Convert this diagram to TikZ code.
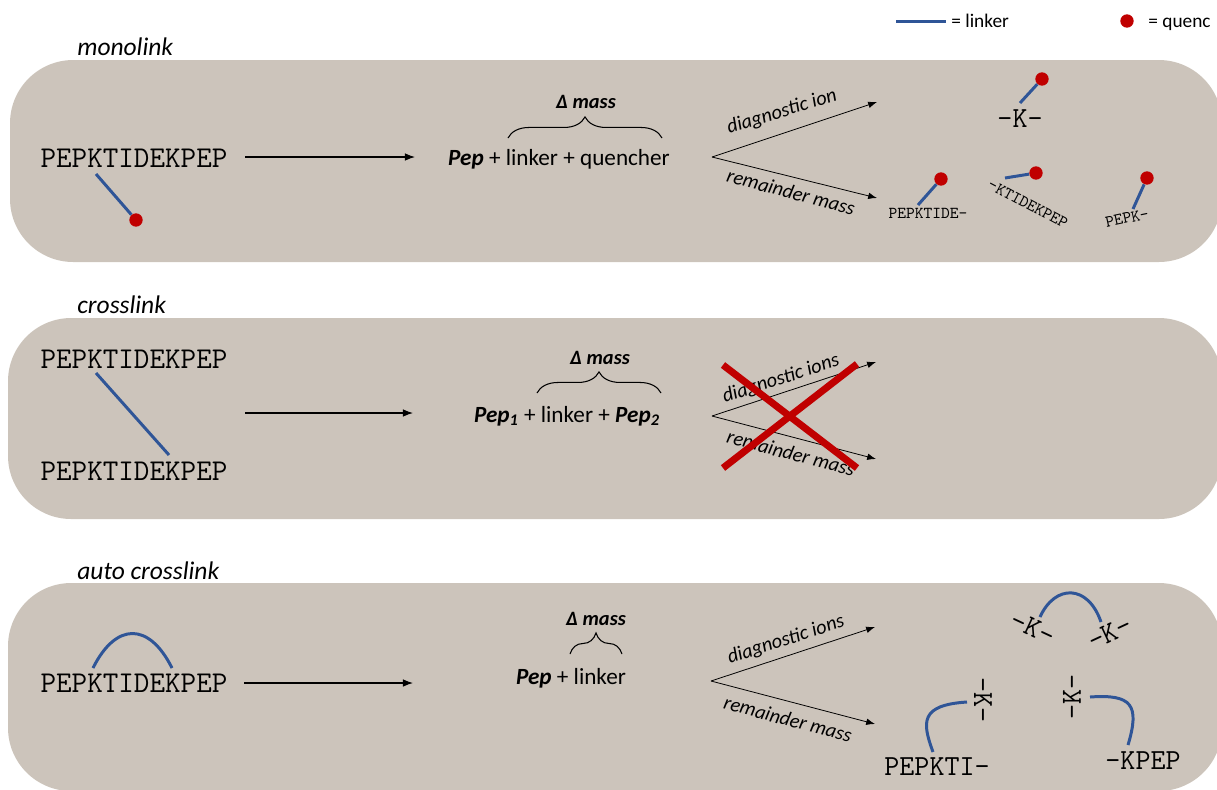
\documentclass[tikz,border=0pt]{standalone}
\usepackage{fontspec}
\setmainfont{Carlito}
\usepackage{tikz}
\usetikzlibrary{arrows.meta,decorations.pathreplacing}
\definecolor{panelgray}{RGB}{204,196,187}
\definecolor{linkblue}{RGB}{47,85,151}
\definecolor{quenchred}{RGB}{192,0,0}
\tikzstyle{panel}=[fill=panelgray, draw=none, rounded corners=36pt]
\tikzstyle{peptide}=[font=\ttfamily\fontsize{17.2}{18}\selectfont, inner sep=0pt]
\tikzstyle{bigfrag}=[font=\ttfamily\fontsize{16.6}{18}\selectfont, inner sep=0pt]
\tikzstyle{fragment}=[font=\ttfamily\fontsize{9.5}{10}\selectfont, inner sep=0pt]
\tikzstyle{boxtitle}=[font=\fontsize{14.5}{16}\selectfont\itshape, inner sep=0pt, anchor=base west]
\tikzstyle{formula}=[font=\fontsize{13.2}{15}\selectfont, inner sep=0pt]
\tikzstyle{deltamass}=[font=\fontsize{11.6}{13}\selectfont\bfseries\itshape, inner sep=0pt]
\tikzstyle{forklabel}=[font=\fontsize{11.5}{13}\selectfont\itshape, inner sep=0pt]
\tikzstyle{legendtext}=[font=\fontsize{11}{13}\selectfont, inner sep=0pt, anchor=base west]
\tikzstyle{linker}=[draw=linkblue, line width=1.7pt]
\tikzstyle{quencher}=[circle, fill=quenchred, inner sep=0pt, minimum size=7.6pt]
\tikzstyle{flow}=[draw, line width=0.6pt, -{>[scale=1.0]}, >=Latex]
\tikzstyle{fork}=[draw, line width=0.45pt, -{>[scale=1.0]}, >=Latex]
\tikzstyle{massbrace}=[draw, line width=0.6pt, decorate, decoration={brace, amplitude=12pt}]
\tikzstyle{cross}=[draw=quenchred, line width=4pt]

\begin{document}
\begin{tikzpicture}[x=0.02cm, y=-0.02cm]
      %
      \useasboundingbox (0,0) rectangle (1217,789);
      \clip (0,0) rectangle (1217,789);
      %
      % Legend
      %
      \coordinate (legA) at (896,21);
      \coordinate (legB) at (946,21);
      \path[linker] (legA) -- (legB);
      \node[legendtext] (legLinker) at (951,27) {= linker};
      \node[quencher] (legDot) at (1127,21) {};
      \node[legendtext] (legQuench) at (1148,27) {= quenc};
      %
      % Panels
      %
      \path[panel] (10,60) rectangle (1222,262);
      \path[panel] (8,318) rectangle (1222,519);
      \path[panel] (8,583) rectangle (1222,791);
      \node[boxtitle] (titleMono) at (77,55) {monolink};
      \node[boxtitle] (titleCross) at (77,313) {crosslink};
      \node[boxtitle] (titleAuto) at (77,579) {auto crosslink};
      %
      % monolink: PEPKTIDEKPEP --> Pep + linker + quencher
      %
      \node[peptide] (seqMono) at (134,158) {PEPKTIDEKPEP};
      \coordinate (monoLink) at (96,174);
      \node[quencher] (monoDot) at (136,220) {};
      \path[linker] (monoLink) -- (monoDot);
      \coordinate (monoOut) at (245,157);
      \coordinate (monoIn) at (415,157);
      \path[flow] (monoOut) -- (monoIn);
      \node[formula] (massMono) at (559,159) {\textbf{\textit{Pep}} + linker + quencher};
      \coordinate (braceMonoL) at (508,138);
      \coordinate (braceMonoR) at (662,138);
      \path[massbrace] (braceMonoL) -- (braceMonoR);
      \node[deltamass] (deltaMono) at (586,102) {Δ mass};
      %
      % monolink: diagnostic ion / remainder mass
      %
      \coordinate (forkMono) at (712,157);
      \coordinate (diagMono) at (877,102);
      \coordinate (restMono) at (877,198);
      \path[fork] (forkMono) -- (diagMono);
      \path[fork] (forkMono) -- (restMono);
      \node[forklabel, rotate=17] (diagTextMono) at (782,112) {diagnostic ion};
      \node[forklabel, rotate=-15] (restTextMono) at (791,192) {remainder mass};
      %
      \node[bigfrag] (ionK) at (1020,119) {-K-};
      \coordinate (ionKLink) at (1020,103);
      \node[quencher] (ionKDot) at (1042,79) {};
      \path[linker] (ionKLink) -- (ionKDot);
      %
      \node[fragment] (fragA) at (928,213) {PEPKTIDE-};
      \coordinate (fragALink) at (918,205);
      \node[quencher] (fragADot) at (941,179) {};
      \path[linker] (fragALink) -- (fragADot);
      %
      \node[fragment, rotate=-28] (fragB) at (1028,204) {-KTIDEKPEP};
      \coordinate (fragBLink) at (1005,178);
      \node[quencher] (fragBDot) at (1036,173) {};
      \path[linker] (fragBLink) -- (fragBDot);
      %
      \node[fragment, rotate=12] (fragC) at (1127,218) {PEPK-};
      \coordinate (fragCLink) at (1133,209);
      \node[quencher] (fragCDot) at (1147,178) {};
      \path[linker] (fragCLink) -- (fragCDot);
      %
      % crosslink: PEPKTIDEKPEP x2 --> Pep1 + linker + Pep2
      %
      \node[peptide] (seqCrossA) at (134,359) {PEPKTIDEKPEP};
      \node[peptide] (seqCrossB) at (134,471) {PEPKTIDEKPEP};
      \coordinate (crossLinkA) at (96,373);
      \coordinate (crossLinkB) at (169,455);
      \path[linker] (crossLinkA) -- (crossLinkB);
      \coordinate (crossOut) at (245,413);
      \coordinate (crossIn) at (413,413);
      \path[flow] (crossOut) -- (crossIn);
      \node[formula] (massCross) at (567,416) {\textbf{\textit{Pep\textsubscript{1}}} + linker + \textbf{\textit{Pep\textsubscript{2}}}};
      \coordinate (braceCrossL) at (537,393);
      \coordinate (braceCrossR) at (661,393);
      \path[massbrace] (braceCrossL) -- (braceCrossR);
      \node[deltamass] (deltaCross) at (600,358) {Δ mass};
      %
      % crosslink: diagnostic ions / remainder mass (crossed out)
      %
      \coordinate (forkCross) at (712,416);
      \coordinate (diagCross) at (876,362);
      \coordinate (restCross) at (876,459);
      \path[fork] (forkCross) -- (diagCross);
      \path[fork] (forkCross) -- (restCross);
      \node[forklabel, rotate=18] (diagTextCross) at (781,379) {diagnostic ions};
      \node[forklabel, rotate=-15] (restTextCross) at (791,453) {remainder mass};
      \coordinate (crossA) at (723,365);
      \coordinate (crossB) at (857,468);
      \coordinate (crossC) at (857,364);
      \coordinate (crossD) at (723,468);
      \path[cross] (crossA) -- (crossB);
      \path[cross] (crossC) -- (crossD);
      %
      % auto crosslink: PEPKTIDEKPEP --> Pep + linker
      %
      \node[peptide] (seqAuto) at (134,683) {PEPKTIDEKPEP};
      \coordinate (autoLinkA) at (93,668);
      \coordinate (autoLinkB) at (172,668);
      \path[linker] (autoLinkA) .. controls (116,622) and (149,622) .. (autoLinkB);
      \coordinate (autoOut) at (244,683);
      \coordinate (autoIn) at (413,683);
      \path[flow] (autoOut) -- (autoIn);
      \node[formula] (massAuto) at (571,678) {\textbf{\textit{Pep}} + linker};
      \coordinate (braceAutoL) at (570,654);
      \coordinate (braceAutoR) at (622,654);
      \path[massbrace] (braceAutoL) -- (braceAutoR);
      \node[deltamass] (deltaAuto) at (596,619) {Δ mass};
      %
      % auto crosslink: diagnostic ions / remainder mass
      %
      \coordinate (forkAuto) at (711,681);
      \coordinate (diagAuto) at (875,627);
      \coordinate (restAuto) at (875,724);
      \path[fork] (forkAuto) -- (diagAuto);
      \path[fork] (forkAuto) -- (restAuto);
      \node[forklabel, rotate=18] (diagTextAuto) at (786,640) {diagnostic ions};
      \node[forklabel, rotate=-15] (restTextAuto) at (788,719) {remainder mass};
      %
      \node[bigfrag, rotate=-25] (ionKA) at (1033,628) {-K-};
      \node[bigfrag, rotate=25] (ionKB) at (1110,633) {-K-};
      \coordinate (ionLinkA) at (1040,617);
      \coordinate (ionLinkB) at (1101,622);
      \path[linker] (ionLinkA) .. controls (1055,584) and (1088,584) .. (ionLinkB);
      %
      \node[bigfrag] (restA) at (937,767) {PEPKTI-};
      \node[bigfrag, rotate=-90] (restAK) at (983,700) {-K-};
      \coordinate (restALinkA) at (933,752);
      \coordinate (restALinkB) at (967,702);
      \path[linker] (restALinkA) .. controls (922,722) and (920,705) .. (restALinkB);
      %
      \node[bigfrag] (restB) at (1143,761) {-KPEP};
      \node[bigfrag, rotate=90] (restBK) at (1072,697) {-K-};
      \coordinate (restBLinkA) at (1090,697);
      \coordinate (restBLinkB) at (1128,745);
      \path[linker] (restBLinkA) .. controls (1132,694) and (1140,705) .. (restBLinkB);
      %
\end{tikzpicture}
\end{document}
